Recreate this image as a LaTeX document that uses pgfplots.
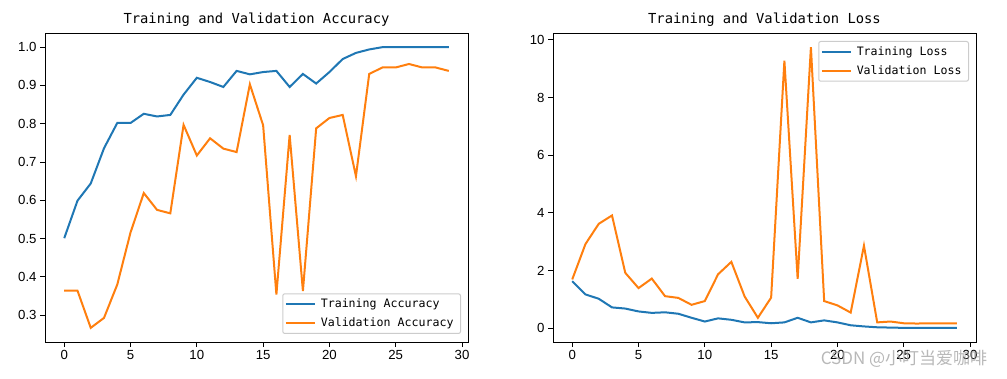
\documentclass[border=0pt]{standalone}
\usepackage{fontspec}
\setmainfont{DejaVu Sans Mono}
\newfontfamily\ticksfont{Liberation Sans}
\newfontfamily\cjk{Noto Sans CJK SC}
\usepackage{pgfplots}
\pgfplotsset{compat=1.18}
\definecolor{tabblue}{HTML}{1F77B4}
\definecolor{taborange}{HTML}{FF7F0E}

\pgfplotstableread{
ep tacc vacc tloss vloss
0 0.501 0.364 1.63 1.69
1 0.599 0.364 1.17 2.92
2 0.644 0.267 1.02 3.62
3 0.736 0.293 0.72 3.91
4 0.802 0.380 0.68 1.92
5 0.802 0.516 0.58 1.39
6 0.826 0.619 0.53 1.72
7 0.819 0.575 0.55 1.11
8 0.823 0.566 0.50 1.05
9 0.876 0.797 0.36 0.81
10 0.920 0.717 0.23 0.94
11 0.909 0.762 0.34 1.87
12 0.896 0.735 0.29 2.30
13 0.938 0.726 0.20 1.10
14 0.929 0.903 0.21 0.36
15 0.935 0.796 0.17 1.06
16 0.938 0.354 0.20 9.28
17 0.896 0.771 0.36 1.71
18 0.930 0.363 0.20 9.75
19 0.905 0.788 0.27 0.94
20 0.935 0.815 0.20 0.79
21 0.969 0.823 0.10 0.54
22 0.985 0.663 0.06 2.86
23 0.994 0.930 0.03 0.20
24 1.000 0.947 0.02 0.23
25 1.000 0.947 0.01 0.17
26 1.000 0.956 0.01 0.16
27 1.000 0.947 0.01 0.17
28 1.000 0.947 0.01 0.17
29 1.000 0.938 0.01 0.17
}\hist

\pgfplotsset{myax/.style={
  scale only axis, width=423pt, height=309pt,
  xmin=-1.45, xmax=30.45, xtick={0,5,...,30},
  tick align=outside, xtick pos=bottom, ytick pos=left,
  major tick length=4.9pt,
  axis line style={line width=0.9pt},
  every tick/.style={black, line width=0.9pt},
  tick label style={font=\ticksfont\fontsize{13.2}{13.2}\selectfont},
  /pgf/number format/assume math mode=true,
  title style={font=\fontsize{13.8}{14}\selectfont, yshift=-3pt},
  legend style={font=\fontsize{11.6}{14}\selectfont, draw=black!20, rounded corners=2pt, line width=1pt, inner xsep=2pt, inner ysep=3pt, row sep=5pt,
    nodes={inner xsep=5pt, inner ysep=2pt}},
  legend cell align=left,
  legend image code/.code={\draw[##1, line width=2pt] (0pt,0pt) -- (29pt,0pt);},
  every axis plot/.append style={line width=2pt},
}}

\begin{document}
\begin{tikzpicture}
\path[use as bounding box] (0,0) rectangle (1007pt,379pt);
\begin{axis}[myax, at={(45pt,37pt)}, anchor=south west,
  title={Training and Validation Accuracy},
  ymin=0.230, ymax=1.037, ytick={0.3,0.4,...,1.0},
  yticklabel style={/pgf/number format/.cd, fixed, fixed zerofill, precision=1},
  legend style={at={(1,0)}, anchor=south east, xshift=-7pt, yshift=8pt}]
\addplot[tabblue] table[x=ep, y=tacc] {\hist};
\addlegendentry{Training Accuracy}
\addplot[taborange] table[x=ep, y=vacc] {\hist};
\addlegendentry{Validation Accuracy}
\end{axis}
\begin{axis}[myax, at={(553pt,37pt)}, anchor=south west,
  title={Training and Validation Loss},
  ymin=-0.48, ymax=10.24, ytick={0,2,...,10},
  legend style={at={(1,1)}, anchor=north east, xshift=-7pt, yshift=-8pt}]
\addplot[tabblue] table[x=ep, y=tloss] {\hist};
\addlegendentry{Training Loss}
\addplot[taborange] table[x=ep, y=vloss] {\hist};
\addlegendentry{Validation Loss}
\end{axis}
\node[text=black!35, font=\cjk\fontsize{17}{17}\selectfont, opacity=0.8] at (904pt,20pt) {CSDN @小叮当爱咖啡};
\end{tikzpicture}
\end{document}
